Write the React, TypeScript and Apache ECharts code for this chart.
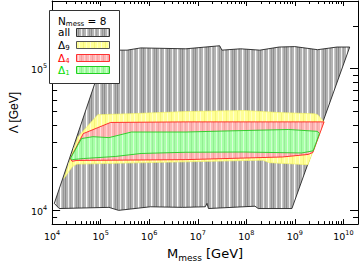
import { useEffect, useRef } from 'react';
import * as echarts from 'echarts';

// ---- axis ranges (GeV)
const X_RANGE = [1e4, 2e10];
const Y_RANGE = [8e3, 3e5];
const X_MAJOR_EXP = [4, 5, 6, 7, 8, 9, 10];
const Y_MAJOR_EXP = [4, 5];

// ---- region "all" (boundary, M_mess and Lambda in GeV)
const allM = [1.11e4, 1.4e4, 1.48e5, 2.34e5, 1.06e6, 4.9e6, 1.43e7, 1.55e7, 1.66e7, 1.51e8, 1.76e8, 8.7e8,
  1.35e10, 7.4e9, 2.95e9, 1.0e9, 4.75e8, 1.9e8, 7.6e7, 3.15e7, 2.83e7, 5.7e6, 6.7e5, 3.5e5, 1.29e5];
const allLambda = [1.12e4, 1.03e4, 1.05e4, 1.0e4, 1.06e4, 1.05e4, 1.06e4, 1.12e4, 1.03e4, 1.07e4, 1.03e4, 1.03e4,
  1.42e5, 1.42e5, 1.36e5, 1.43e5, 1.42e5, 1.35e5, 1.38e5, 1.35e5, 1.45e5, 1.38e5, 1.4e5, 1.35e5, 1.35e5];

// ---- region Delta_9
const d9M = [1.75e4, 2.28e4, 3.43e4, 8.7e4, 3.7e5, 5.7e6, 8.9e7, 4.75e8, 2.5e9, 2.95e9, 4.0e9, 1.87e9, 3.0e8, 2.2e8, 5.7e6, 3.24e4, 2.6e4];
const d9Lambda = [1.68e4, 2.19e4, 3.31e4, 4.73e4, 4.8e4, 4.98e4, 5.06e4, 4.9e4, 4.8e4, 4.73e4, 4.21e4, 2.1e4, 2.17e4, 2.26e4, 2.2e4, 2.12e4, 2.03e4];

// ---- region Delta_4
const d4M = [2.38e4, 4.38e4, 1.6e5, 5.7e6, 4.0e9, 2.35e9, 1.87e9, 5.5e8, 5.7e6, 3.24e4, 2.57e4];
const d4Lambda = [2.32e4, 3.48e4, 4.17e4, 4.21e4, 4.21e4, 2.56e4, 2.48e4, 2.38e4, 2.28e4, 2.25e4, 2.22e4];

// ---- region Delta_1
const d1M = [2.38e4, 4.03e4, 6.9e4, 1.48e5, 4.3e5, 5.7e6, 3.56e7, 7.5e8, 2.92e9, 3.2e9, 2.38e9, 1.38e9, 8.9e7, 5.7e6, 6.8e5, 2.0e5, 4.38e4, 2.6e4];
const d1Lambda = [2.32e4, 3.21e4, 3.31e4, 3.26e4, 3.57e4, 3.57e4, 3.63e4, 3.72e4, 3.61e4, 3.48e4, 2.63e4, 2.54e4, 2.58e4, 2.57e4, 2.52e4, 2.4e4, 2.32e4, 2.28e4];

const N_MESS = 8;
const legendNames = ['all', '9', '4', '1'];

const FONT = 'DejaVu Sans';
const lg = (v: number) => Math.log10(v);

function stripes(width: number, bg: string, lines: [number, string][]) {
  const rects = lines.map(([x, c]) => `<rect x="${x}" y="0" width="1" height="4" fill="${c}"/>`).join('');
  const svg = `<svg xmlns="http://www.w3.org/2000/svg" width="${width}" height="4" shape-rendering="crispEdges"><rect width="${width}" height="4" fill="${bg}"/>${rects}</svg>`;
  return {
    image: 'data:image/svg+xml;charset=utf-8,' + encodeURIComponent(svg),
    repeat: 'repeat',
    imageWidth: width,
    imageHeight: 4,
  };
}

const grayFill = stripes(13, '#b4b4b4', [[0, '#8c8c8c'], [3, '#eeeeee'], [5, '#a0a0a0'], [8, '#ffffff'], [9, '#c8c8c8'], [11, '#969696']]);
const yellowFill = stripes(11, '#ffff96', [[2, '#ffffd0'], [6, '#f4f47a'], [9, '#ffffc0']]);
const redFill = stripes(11, '#ffb4b4', [[1, '#ffdcdc'], [4, '#f0a0a0'], [7, '#ffd0d0'], [9, '#eeaaaa']]);
const greenFill = stripes(11, '#a8ffa8', [[1, '#d8ffd8'], [4, '#90ee90'], [7, '#ccffcc'], [9, '#9ce89c']]);

function minorExps(lo: number, hi: number) {
  const out: number[] = [];
  for (let e = Math.floor(lg(lo)); e <= Math.ceil(lg(hi)); e++) {
    for (let m = 2; m <= 9; m++) {
      const v = m * Math.pow(10, e);
      if (v >= lo && v <= hi) out.push(lg(v));
    }
  }
  return out;
}

export default function App() {
  const ref = useRef<HTMLDivElement>(null);
  useEffect(() => {
    if (!ref.current) return;
    const chart = echarts.init(ref.current, null, { renderer: 'svg' });
    const xMin = lg(X_RANGE[0]), xMax = lg(X_RANGE[1]);
    const yMin = lg(Y_RANGE[0]), yMax = lg(Y_RANGE[1]);
    const xMinor = minorExps(X_RANGE[0], X_RANGE[1]);
    const yMinor = minorExps(Y_RANGE[0], Y_RANGE[1]);

    const labelRich = {
      b: { fontSize: 9.5, fontFamily: FONT, color: '#000', lineHeight: 12, verticalAlign: 'bottom' },
      s: { fontSize: 6.5, fontFamily: FONT, color: '#000', lineHeight: 7, verticalAlign: 'top' },
    };
    const fmt = (v: number) => `{b|10}{s|${Math.round(v)}}`;

    const mkAxis = (min: number, max: number, position: string, values: number[], length: number, line: boolean, label: boolean, name?: any) => ({
      type: 'value', min, max, position,
      ...(name || {}),
      axisLine: { show: line, onZero: false, lineStyle: { color: '#000', width: 1 } },
      splitLine: { show: false },
      axisTick: { show: true, inside: true, length, customValues: values, lineStyle: { color: '#000', width: 1 } },
      axisLabel: label
        ? { show: true, customValues: values, margin: 5, formatter: fmt, rich: labelRich }
        : { show: false },
    });

    const xMajor = X_MAJOR_EXP.slice();
    const yMajor = Y_MAJOR_EXP.slice();

    const region = (M: number[], L: number[], fill: any, stroke: string, lw: number) => {
      const pts = M.map((m, i) => [lg(m), lg(L[i])]);
      return {
        type: 'custom', xAxisIndex: 0, yAxisIndex: 0, silent: true,
        data: pts,
        renderItem: (params: any, api: any) => {
          if (params.dataIndex !== 0) return null;
          return {
            type: 'polygon',
            shape: { points: pts.map((p) => api.coord(p)) },
            style: { fill, stroke, lineWidth: lw },
          };
        },
      };
    };

    const legendItems: any[] = [];
    const rowY = [32.5, 45.5, 58, 70.5];
    const swY = [28.5, 41.5, 54.5, 66.5];
    const swH = [8, 7, 7, 7];
    const fills = [grayFill, yellowFill, redFill, greenFill];
    const swStroke = ['#333', '#555', '#ff3030', '#20d020'];
    const txtColor = ['#000', '#000', '#ff0000', '#00dd00'];
    legendNames.forEach((n, i) => {
      const isDelta = i > 0;
      legendItems.push({
        type: 'text', x: 58, y: rowY[i], z: 101,
        style: {
          text: isDelta ? `{a|Δ}{s|${n}}` : `{a|${n}}`,
          verticalAlign: 'middle',
          rich: {
            a: { fontSize: 10.5, fontFamily: FONT, fill: txtColor[i], lineHeight: 12, verticalAlign: 'top' },
            s: { fontSize: 7, fontFamily: FONT, fill: txtColor[i], lineHeight: 8, padding: [6, 0, 0, 0], verticalAlign: 'bottom' },
          },
        },
      });
      legendItems.push({
        type: 'rect', z: 101,
        shape: { x: 76.5, y: swY[i], width: 33, height: swH[i] },
        style: { fill: fills[i], stroke: swStroke[i], lineWidth: 1 },
      });
    });

    chart.setOption({
      animation: false,
      backgroundColor: '#fff',
      grid: { left: 41, top: 1, right: 2, bottom: 30, containLabel: false },
      xAxis: [
        mkAxis(xMin, xMax, 'bottom', xMajor, 5, true, true, {
          name: '{a|M}{s|mess}{a| [GeV]}', nameLocation: 'middle', nameGap: 12,
          nameTextStyle: {
            rich: {
              a: { fontSize: 13, fontFamily: FONT, color: '#000', lineHeight: 15, verticalAlign: 'top' },
              s: { fontSize: 9, fontFamily: FONT, color: '#000', lineHeight: 10, padding: [7, 0, 0, 0], verticalAlign: 'bottom' },
            },
          },
        }),
        mkAxis(xMin, xMax, 'top', xMajor, 5, true, false),
        mkAxis(xMin, xMax, 'bottom', xMinor, 3, false, false),
        mkAxis(xMin, xMax, 'top', xMinor, 3, false, false),
      ],
      yAxis: [
        mkAxis(yMin, yMax, 'left', yMajor, 8, true, true, {
          name: 'Λ [GeV]', nameLocation: 'middle', nameGap: 30, nameRotate: 90,
          nameTextStyle: { fontSize: 12, fontFamily: 'Liberation Sans', color: '#000' },
        }),
        mkAxis(yMin, yMax, 'right', yMajor, 8, true, false),
        mkAxis(yMin, yMax, 'left', yMinor, 5, false, false),
        mkAxis(yMin, yMax, 'right', yMinor, 5, false, false),
      ],
      series: [
        region(allM, allLambda, grayFill, '#222', 0.9),
        region(d9M, d9Lambda, yellowFill, '#f8f860', 0.6),
        region(d4M, d4Lambda, redFill, '#ff2020', 0.9),
        region(d1M, d1Lambda, greenFill, '#22cc22', 0.9),
      ],
      graphic: [
        {
          type: 'rect', z: 100,
          shape: { x: 49.5, y: 10.5, width: 70, height: 73 },
          style: { fill: '#fff', stroke: '#333', lineWidth: 1 },
        },
        {
          type: 'text', x: 58, y: 21, z: 101,
          style: {
            text: `{a|N}{s|mess}{a| = ${N_MESS}}`,
            verticalAlign: 'middle',
            rich: {
              a: { fontSize: 10.5, fontFamily: FONT, fill: '#000', lineHeight: 12, verticalAlign: 'top' },
              s: { fontSize: 7, fontFamily: FONT, fill: '#000', lineHeight: 8, padding: [5, 0, 0, 0], verticalAlign: 'bottom' },
            },
          },
        },
        ...legendItems,
      ],
    });
    return () => chart.dispose();
  }, []);
  return <div ref={ref} style={{ position: 'absolute', left: 0, top: 0, width: 360, height: 267 }} />;
}
